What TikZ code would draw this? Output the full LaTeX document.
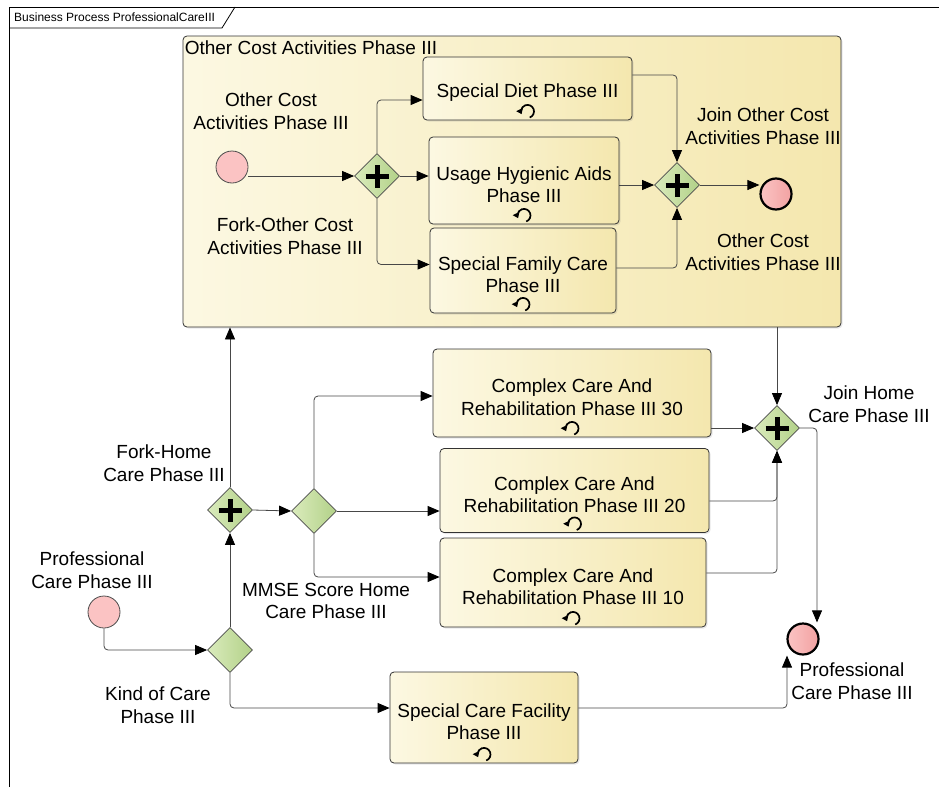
\documentclass[tikz,border=0pt]{standalone}
\usepackage{fontspec}
\setmainfont{Liberation Sans}
\usepackage{tikz}
\usetikzlibrary{shapes.geometric,arrows.meta}
\usetikzlibrary{shadows,calc}
\definecolor{crema}{HTML}{FCF8E2}
\definecolor{cremascura}{HTML}{F4E7AE}
\definecolor{verdechiaro}{HTML}{DAEBBC}
\definecolor{verdescuro}{HTML}{B2D188}
\definecolor{rosa}{HTML}{FBC3C3}
\definecolor{rosascuro}{HTML}{F2A2A2}
\colorlet{linea}{black!72}
\newcommand{\testo}{\fontsize{19}{22.5}\selectfont}
\newcommand{\su}{\rule{0pt}{22pt}}
\newcommand{\ciclo}[1]{%
\draw[line width=1.7pt,-{Triangle[length=5pt,width=7pt]}]
  ($(#1.south)+(0,-9)$) ++(-70:6.5pt) arc[start angle=-70,end angle=205,radius=6.5pt];
}
\tikzset{%
  flusso/.style={-{Triangle[length=12pt,width=10pt,color=black]},draw=linea,
    line width=0.8pt,rounded corners=4pt},
  attivita/.style={%
    draw=black!80, line width=0.8pt, rounded corners=4pt,
    left color=crema, right color=cremascura,
    drop shadow={opacity=0.18,shadow xshift=1.5pt,shadow yshift=-1.5pt},
    align=center, font=\testo, inner sep=0pt
  },
  porta/.style={%
    diamond, draw=black!70, line width=0.8pt,
    left color=verdechiaro, right color=verdescuro,
    minimum width=45pt, minimum height=45pt, inner sep=0pt
  },
  parallela/.style={%
    porta,
    path picture={%
      \draw[black,line width=5pt]
        ([xshift=-11.5pt]path picture bounding box.center) --
        ([xshift=11.5pt]path picture bounding box.center);
      \draw[black,line width=5pt]
        ([yshift=-11.5pt]path picture bounding box.center) --
        ([yshift=11.5pt]path picture bounding box.center);
    }
  },
  inizio/.style={circle, draw=black!70, line width=0.8pt, fill=rosa,
    minimum size=32pt, inner sep=0pt},
  fine/.style={circle, draw=black, line width=2.2pt,
    left color=rosa, right color=rosascuro,
    minimum size=31pt, inner sep=0pt},
  etichetta/.style={align=center, font=\testo, inner sep=0pt}
}

\begin{document}
\begin{tikzpicture}[x=1pt,y=-1pt]
\useasboundingbox (0,0) rectangle (939,787);

% cornice del diagramma
\draw[line width=0.8pt] (9,787) -- (9,7) -- (939,7);
\draw[line width=0.8pt] (9,28) -- (222,28) -- (235,7);
\node[anchor=west,inner sep=0pt,font=\fontsize{12}{14}\selectfont] (titolo) at (14,17.5)
  {Business Process ProfessionalCareIII};

% sottoprocesso
\node[attivita, minimum width=658pt, minimum height=291pt] (sotto) at (512,181.5) {};
\node[etichetta, anchor=north west] (lsotto) at ([xshift=2pt,yshift=-5pt]sotto.north west)
  {Other Cost Activities Phase III};

\node[inizio] (s1) at (232,167) {};
\node[parallela] (f1) at (377,176) {};
\node[attivita, minimum width=209pt, minimum height=63pt] (dieta) at (527.5,88.5) {\su Special Diet Phase III};
\node[attivita, minimum width=190pt, minimum height=87pt] (igiene) at (524,180.5) {\su Usage Hygienic Aids\\Phase III};
\node[attivita, minimum width=186pt, minimum height=85pt] (famiglia) at (523,270.5) {\su Special Family Care\\Phase III};
\node[parallela] (j1) at (677,185) {};
\node[fine] (e1) at (776,194) {};

\node[etichetta] (ls1) at (271,111) {Other Cost\\Activities Phase III};
\node[etichetta] (lf1) at (285,236) {Fork-Other Cost\\Activities Phase III};
\node[etichetta] (lj1) at (763,126) {Join Other Cost\\Activities Phase III};
\node[etichetta] (le1) at (763,252) {Other Cost\\Activities Phase III};

\ciclo{dieta}
\ciclo{igiene}
\ciclo{famiglia}

\draw[flusso] (s1.east |- f1) -- (f1.west);
\draw[flusso] (f1.north) |- ([yshift=-11.5pt]dieta.west);
\draw[flusso] (f1.east) -- (f1.east -| igiene.west);
\draw[flusso] (f1.south) |- ([yshift=6pt]famiglia.west);
\draw[flusso] ([yshift=13.5pt]dieta.east) -| (j1.north);
\draw[flusso] (igiene.east |- j1) -- (j1.west);
\draw[flusso] ([yshift=2.5pt]famiglia.east) -| (j1.south);
\draw[flusso] (j1.east) -- (j1.east -| e1.west);

% processo principale
\node[inizio] (s0) at (104,612) {};
\node[porta] (tipo) at (230,650) {};
\node[parallela] (fh) at (230,510) {};
\node[porta] (mmse) at (314,511) {};
\node[attivita, minimum width=278pt, minimum height=88pt] (c30) at (572,393) {\su Complex Care And\\Rehabilitation Phase III 30};
\node[attivita, minimum width=269pt, minimum height=84pt] (c20) at (574.5,490.5) {\su Complex Care And\\Rehabilitation Phase III 20};
\node[attivita, minimum width=266pt, minimum height=89pt] (c10) at (573,582.5) {\su Complex Care And\\Rehabilitation Phase III 10};
\node[attivita, minimum width=188pt, minimum height=91pt] (scf) at (484,717.5) {\su Special Care Facility\\Phase III};
\node[parallela] (jh) at (777,428) {};
\node[fine] (e0) at (803,639) {};

\node[etichetta] (ls0) at (92,570) {Professional\\Care Phase III};
\node[etichetta] (ltipo) at (158,705) {Kind of Care\\Phase III};
\node[etichetta] (lfh) at (164,463) {Fork-Home\\Care Phase III};
\node[etichetta] (lmmse) at (326,601) {MMSE Score Home\\Care Phase III};
\node[etichetta] (ljh) at (869,404) {Join Home\\Care Phase III};
\node[etichetta] (le0) at (852,681) {Professional\\Care Phase III};

\ciclo{c30}
\ciclo{c20}
\ciclo{c10}
\ciclo{scf}

\draw[flusso] (s0.south) |- (tipo.west);
\draw[flusso] (tipo.north) -- (fh.south);
\draw[flusso] (fh.north) -- (fh.north |- sotto.south);
\draw[flusso] (fh.east) -- (mmse.west);
\draw[flusso] (mmse.north) |- ([yshift=-3pt]c30.west);
\draw[flusso] (mmse.east) -- (mmse.east -| c20.west);
\draw[flusso] (mmse.south) |- ([yshift=5.5pt]c10.west);
\draw[flusso] (sotto.south -| jh) -- (jh.north);
\draw[flusso] (c30.east |- jh) -- (jh.west);
\draw[flusso] ([yshift=-10.5pt]c20.east) -| (jh.south);
\draw[flusso] ([yshift=9.5pt]c10.east) -| (jh.south);
\draw[flusso] (jh.east) -| ([xshift=14pt]e0.north);
\draw[flusso] (tipo.south) |- ([yshift=9.5pt]scf.west);
\draw[flusso] ([yshift=9.5pt]scf.east) -| ([xshift=-16pt]e0.south);
\end{tikzpicture}
\end{document}
